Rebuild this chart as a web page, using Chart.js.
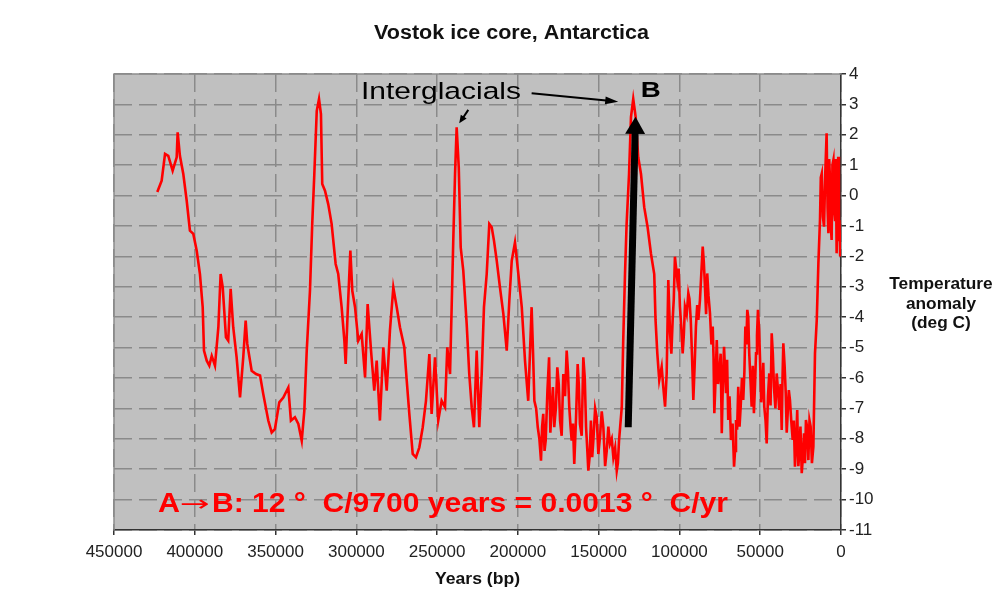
<!DOCTYPE html>
<html><head><meta charset="utf-8">
<script src="https://cdn.jsdelivr.net/npm/chart.js@4.4.1/dist/chart.umd.min.js"></script>
<style>html,body{margin:0;padding:0;background:#fff;}canvas{display:block;}</style>
</head><body>
<canvas id="c" width="1003" height="602"></canvas>
<script>
// ---- data (years before present, temperature anomaly in deg C) ----
const years = [
423200,420500,418400,416400,413700,411200,410600,409200,407100,405000,
403000,400900,398800,396800,395100,394300,392600,391000,389500,387500,
385400,384000,382700,380700,379300,377800,376200,374100,372000,370000,
368500,367500,364800,362100,359600,357600,354500,352400,350400,347700,
345200,342100,340500,338000,335900,333800,332200,330700,328700,327300,
326000,324500,323100,321900,321100,319400,317400,315300,312800,311200,
309100,307400,306600,305400,303700,302500,300800,298800,296700,294600,
293000,290900,288900,287400,285400,283300,281200,279200,277100,275000,
273000,270300,268800,267200,265100,263100,261000,258900,256900,254800,
253400,251300,249300,247200,245100,243700,242000,241000,240000,238900,
237900,236600,235400,233800,231700,230100,228600,227200,225500,223900,
222400,221000,219300,217700,216200,214800,213100,211100,209000,206900,
205300,203800,201800,199700,197600,195600,193600,191500,189800,187700,
185700,184300,182800,180700,179100,177500,175600,173900,171900,169800,
168200,166700,165100,163000,161600,159500,157800,156400,154800,153300,
151200,149200,147100,145000,143000,140900,138800,137400,135700,134800,
133700,132700,131200,130000,128600,127100,125500,123800,121800,119700,
117600,115600,114800,113700,112500,111000,108900,107900,106900,105800,
104200,102800,101300,99700,98000,96600,94500,93000,91400,89800,
88300,87300,85600,84200,82800,81100,79400,78400,76900,75300,
73800,72400,71200,69800,68100,66200,65000,63600,62100,60500,
59200,58000,56800,55300,53900,52600,51400,50100,48700,47500,
46000,44400,42900,41500,39800,38200,36700,35700,34200,33000,
31600,29900,28500,27100,25800,24300,22900,21700,20200,18800,
17100,16100,15000,14000,13000,11900,10500,8900,7800,6800,
5800,4700,3700,2700,1700,1000];
const temps = [
0.12,0.49,1.37,1.31,0.82,1.26,2.08,1.31,0.71,-0.17,
-1.15,-1.26,-1.81,-2.58,-3.67,-5.10,-5.43,-5.59,-5.27,-5.59,
-4.33,-2.58,-3.02,-4.66,-4.77,-3.07,-4.33,-5.32,-6.64,-5.32,
-4.11,-4.88,-5.76,-5.87,-5.92,-6.53,-7.40,-7.79,-7.68,-6.80,
-6.64,-6.31,-7.40,-7.29,-7.51,-8.06,-7.08,-5.10,-3.13,-0.93,
0.71,2.79,3.18,2.68,0.38,0.16,-0.28,-0.93,-2.25,-2.58,
-3.67,-4.77,-5.54,-3.89,-1.81,-3.13,-3.67,-4.77,-4.55,-5.98,
-3.57,-5.10,-6.42,-5.43,-7.40,-4.99,-6.42,-4.44,-3.02,-3.67,
-4.33,-4.99,-6.09,-7.18,-8.50,-8.61,-8.28,-7.62,-6.75,-5.21,
-7.18,-5.32,-7.40,-6.75,-6.96,-4.99,-5.87,-3.67,-1.48,0.71,
2.25,0.93,-1.70,-2.47,-4.22,-5.87,-6.96,-7.62,-5.10,-7.62,
-5.87,-3.67,-2.58,-0.93,-1.04,-1.48,-2.14,-3.02,-3.89,-5.10,
-3.46,-2.14,-1.54,-2.58,-3.67,-5.43,-6.75,-3.67,-6.75,-7.62,
-8.72,-7.18,-8.06,-5.32,-6.96,-7.62,-5.65,-7.40,-5.87,-5.10,
-6.96,-8.06,-8.83,-5.54,-7.51,-5.32,-7.62,-9.05,-7.40,-8.06,
-7.29,-7.95,-7.62,-8.39,-8.17,-8.61,-9.05,-8.06,-6.96,-4.77,
-2.58,-0.93,0.71,2.58,3.18,2.58,1.26,0.71,-0.38,-1.04,
-1.92,-2.58,-4.09,-5.19,-6.07,-5.63,-6.94,-5.85,-2.78,-4.53,
-4.09,-2.01,-2.78,-3.65,-5.19,-3.65,-3.21,-4.09,-6.72,-4.31,
-4.09,-3.43,-1.68,-3.00,-2.56,-3.87,-4.31,-7.16,-4.75,-5.85,
-7.82,-4.97,-6.50,-7.38,-8.04,-8.92,-7.38,-6.29,-6.94,-6.72,
-4.31,-3.76,-5.19,-6.94,-7.16,-5.19,-3.76,-5.41,-6.29,-6.94,
-8.15,-5.85,-4.53,-6.29,-5.85,-7.05,-7.71,-4.86,-6.50,-7.16,
-6.72,-8.04,-8.92,-7.05,-8.48,-9.13,-7.82,-7.38,-8.70,-7.60,
-8.26,-5.19,-4.09,-2.23,-0.80,0.73,-1.02,2.05,-1.24,0.51,
-1.46,1.17,-0.80,-1.90,1.28,-0.80];

// extra readings of the dense, jittery parts of the record
const yearsFine = [
190600,188700,186700,185000,183500,181700,179900,178300,176500,174700,
172900,170800,169000,167400,165900,164000,162300,160500,158600,157100,
155600,154000,152200,150200,148100,146000,144000,141900,139800,138100,
110000,105000,103500,100500,98800,97300,95500,93800,92200,90600,
89000,86500,84900,83500,82000,80200,78900,77600,76100,74500,
73100,70500,69000,67100,65600,64300,62800,61300,59800,58600,
57400,56000,54600,53200,52000,50700,49400,48100,46700,45200,
43600,42200,40600,39000,37400,36200,34900,33600,32300,30800,
29200,27800,26400,25100,23600,22300,21000,19500,18000,
12500,11200,9700,8300,7300,6300,5300,4200,3200,2200,
1300,500];
const tempsFine = [
-5.2,-7.0,-8.0,-7.6,-8.4,-6.4,-7.8,-6.3,-7.0,-6.2,
-7.9,-6.6,-5.8,-7.6,-7.5,-7.3,-6.2,-7.9,-6.0,-8.3,
-8.6,-8.6,-7.0,-8.5,-7.1,-8.9,-7.6,-8.0,-8.3,-8.8,
-6.3,-5.2,-3.4,-2.4,-4.4,-4.6,-3.9,-3.4,-5.3,-5.6,
-3.6,-2.6,-2.2,-3.9,-3.3,-4.9,-5.3,-6.0,-6.2,-5.2,
-6.1,-5.4,-6.6,-7.5,-8.4,-7.7,-7.6,-6.0,-5.8,-4.9,
-4.0,-6.1,-5.6,-6.2,-4.6,-4.4,-6.8,-5.5,-7.4,-6.6,
-6.9,-5.2,-7.0,-6.4,-6.2,-6.0,-5.6,-7.8,-6.4,-7.4,
-7.4,-8.2,-8.9,-7.6,-8.6,-8.8,-7.6,-7.4,-8.8,
0.6,-0.7,0.8,-0.4,1.2,-1.0,1.0,-0.5,1.2,0.2,
-1.5,-2.0];

const xTickValues = [450000,400000,350000,300000,250000,200000,150000,100000,50000,0];
const yTickValues = [4,3,2,1,0,-1,-2,-3,-4,-5,-6,-7,-8,-9,-10,-11];

// ---- texts ----
const chartTitle = 'Vostok ice core, Antarctica';
const xTitle = 'Years (bp)';
const yTitleLines = ['Temperature', 'anomaly', '(deg C)'];
const noteLabel = 'Interglacials';
const pointLabel = 'B';
const rateParts = ['A', '\u2192', 'B: 12 \u00B0  C/9700 years = 0.0013 \u00B0  C/yr'];

// ---- annotation anchors in data units [year, temp] ----
const noteAnchor = [247600, 3.18];
const pointAnchor = [124000, 3.25];
const rateAnchor = [422800, -10.40];
const longArrow = [[191500, 3.37], [137900, 3.09]];
const shortArrow = [[230700, 2.82], [236300, 2.38]];
const riseArrow = [[131700, -7.62], [127200, 2.59]];

const FONT = '"Liberation Sans", Arial, Helvetica, sans-serif';

function stretchText(ctx, text, x, y, width, align) {
  const w = ctx.measureText(text).width;
  const s = width / w;
  ctx.save();
  ctx.translate(x, y);
  ctx.scale(s, 1);
  ctx.textAlign = align;
  ctx.textBaseline = 'alphabetic';
  ctx.fillText(text, 0, 0);
  ctx.restore();
}
function arrow(ctx, p0, p1, lw, headLen, headW) {
  const dx = p1.x - p0.x, dy = p1.y - p0.y;
  const L = Math.hypot(dx, dy);
  const ux = dx / L, uy = dy / L, nx = -uy, ny = ux;
  const bx = p1.x - ux * headLen, by = p1.y - uy * headLen;
  ctx.beginPath();
  ctx.lineWidth = lw;
  ctx.lineCap = 'butt';
  ctx.moveTo(p0.x, p0.y);
  ctx.lineTo(bx + ux, by + uy);
  ctx.stroke();
  ctx.beginPath();
  ctx.moveTo(p1.x, p1.y);
  ctx.lineTo(bx + nx * headW / 2, by + ny * headW / 2);
  ctx.lineTo(bx - nx * headW / 2, by - ny * headW / 2);
  ctx.closePath();
  ctx.fill();
}

const decor = {
  id: 'decor',
  beforeDraw(chart) {
    const {ctx, chartArea: a} = chart;
    ctx.save();
    ctx.fillStyle = '#ffffff';
    ctx.fillRect(0, 0, chart.width, chart.height);
    ctx.fillStyle = '#c0c0c0';
    ctx.fillRect(a.left, a.top, a.right - a.left, a.bottom - a.top);
    ctx.restore();
  },
  beforeDatasetsDraw(chart) {
    const {ctx, chartArea: a} = chart;
    ctx.save();
    ctx.strokeStyle = '#8c8c8c';
    ctx.lineWidth = 1.5;
    ctx.beginPath();
    ctx.moveTo(a.left, a.bottom);
    ctx.lineTo(a.left, a.top);
    ctx.lineTo(a.right, a.top);
    ctx.stroke();
    ctx.restore();
  },
  afterDatasetsDraw(chart) {
    const {ctx} = chart;
    const xs = chart.scales.x, ys = chart.scales.y;
    const P = (d) => ({x: xs.getPixelForValue(d[0]), y: ys.getPixelForValue(d[1])});
    ctx.save();
    ctx.strokeStyle = '#000'; ctx.fillStyle = '#000';
    arrow(ctx, P(riseArrow[0]), P(riseArrow[1]), 7, 17, 20);
    arrow(ctx, P(longArrow[0]), P(longArrow[1]), 2, 13, 8);
    arrow(ctx, P(shortArrow[0]), P(shortArrow[1]), 2, 8, 7);
    ctx.restore();
  },
  afterDraw(chart) {
    const {ctx} = chart;
    const xs = chart.scales.x, ys = chart.scales.y;
    const P = (d) => ({x: xs.getPixelForValue(d[0]), y: ys.getPixelForValue(d[1])});
    ctx.save();
    // title
    ctx.fillStyle = '#111';
    ctx.font = 'bold 19.5px ' + FONT;
    stretchText(ctx, chartTitle, 511.5, 39, 275, 'center');
    // x title
    ctx.font = 'bold 17px ' + FONT;
    stretchText(ctx, xTitle, (chart.chartArea.left + chart.chartArea.right) / 2, 584, 85, 'center');
    // y title (horizontal, to the right)
    ctx.font = 'bold 17.3px ' + FONT;
    ctx.textAlign = 'center';
    const base = [289, 308.5, 328];
    yTitleLines.forEach((t, i) => ctx.fillText(t, 941, base[i]));
    // annotations
    ctx.fillStyle = '#000';
    ctx.font = '23.7px ' + FONT;
    const n = P(noteAnchor);
    stretchText(ctx, noteLabel, n.x, n.y, 160, 'center');
    ctx.font = 'bold 22px ' + FONT;
    const b = P(pointAnchor);
    stretchText(ctx, pointLabel, b.x, b.y, 20, 'left');
    ctx.fillStyle = '#ff0000';
    const r = P(rateAnchor);
    ctx.font = 'bold 28px ' + FONT;
    stretchText(ctx, rateParts[0], r.x, r.y, 22, 'left');
    ctx.font = '22px "DejaVu Sans", sans-serif';
    stretchText(ctx, rateParts[1], r.x + 22, r.y - 1, 30, 'left');
    ctx.font = 'bold 28px ' + FONT;
    stretchText(ctx, rateParts[2], r.x + 54, r.y, 516, 'left');
    ctx.restore();
  }
};

const points = years.map((y, i) => ({x: y, y: temps[i]}))
  .concat(yearsFine.map((y, i) => ({x: y, y: tempsFine[i]})))
  .sort((p, q) => q.x - p.x);

new Chart(document.getElementById('c'), {
  type: 'line',
  data: {
    datasets: [{
      data: points,
      borderColor: '#ff0000',
      borderWidth: 2.6,
      pointRadius: 0,
      tension: 0,
      fill: false
    }]
  },
  options: {
    responsive: false,
    animation: false,
    devicePixelRatio: 1,
    parsing: false,
    layout: {padding: {left: 114, top: 74, right: 0, bottom: 0}},
    plugins: {legend: {display: false}, title: {display: false}, tooltip: {enabled: false}},
    scales: {
      x: {
        type: 'linear',
        position: 'bottom',
        reverse: true,
        min: 0, max: 450000,
        afterBuildTicks: (s) => { s.ticks = xTickValues.map(v => ({value: v})); },
        afterFit: (s) => { s.height = 72; },
        ticks: {
          autoSkip: false, maxRotation: 0, minRotation: 0, padding: 7,
          color: '#222', font: {family: FONT, size: 17},
          callback: (v) => String(v)
        },
        grid: {color: '#8a8a8a', lineWidth: 1.5, tickLength: 5, tickColor: '#333', tickWidth: 1.5},
        border: {display: true, color: '#333', width: 1.5, dash: [18, 7]}
      },
      y: {
        type: 'linear',
        position: 'right',
        min: -11, max: 4,
        afterBuildTicks: (s) => { s.ticks = yTickValues.map(v => ({value: v})); },
        afterFit: (s) => { s.width = 162; },
        ticks: {
          autoSkip: false, padding: 3,
          color: '#222', font: {family: FONT, size: 17},
          callback: (v) => String(v)
        },
        grid: {color: '#8a8a8a', lineWidth: 1.5, tickLength: 5, tickColor: '#333', tickWidth: 1.5},
        border: {display: true, color: '#333', width: 1.5, dash: [18, 7]}
      }
    }
  },
  plugins: [decor]
});
</script>
</body></html>
